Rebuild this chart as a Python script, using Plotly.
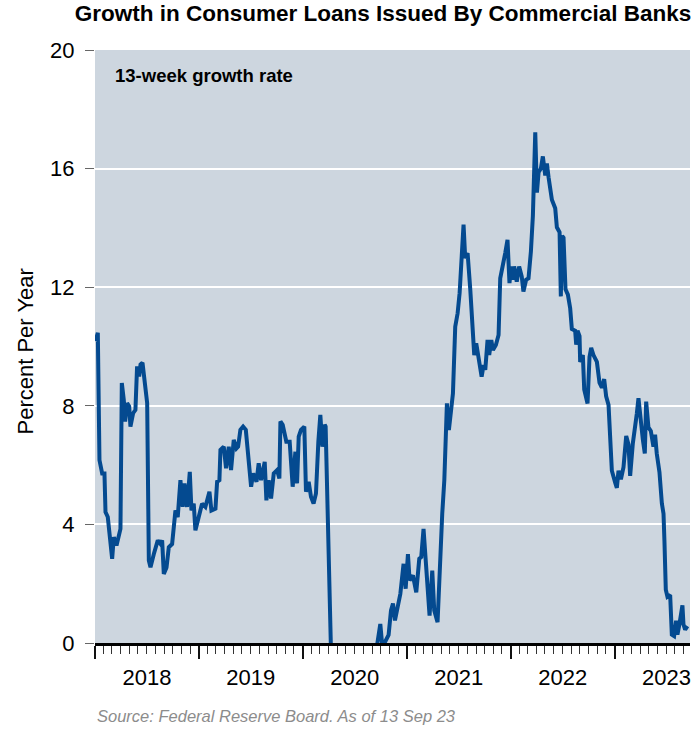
import numpy as np
import pandas as pd
import plotly.graph_objects as go

# Weekly series: time in years since 1 Jan 2018, 13-week growth rate (% per year)
years_since_2018 = [
    0.005, 0.027, 0.043, 0.069, 0.091, 0.101, 0.123, 0.165, 0.181, 0.207,
    0.245, 0.258, 0.277, 0.290, 0.309, 0.329, 0.341, 0.367, 0.389, 0.405,
    0.425, 0.438, 0.457, 0.486, 0.502, 0.518, 0.534, 0.566, 0.604, 0.630,
    0.646, 0.662, 0.688, 0.710, 0.742, 0.774, 0.796, 0.822, 0.844, 0.861,
    0.886, 0.912, 0.928, 0.950, 0.966, 0.998, 1.030, 1.062, 1.101, 1.120,
    1.159, 1.175, 1.197, 1.207, 1.239, 1.261, 1.287, 1.309, 1.335, 1.361,
    1.377, 1.399, 1.425, 1.451, 1.480, 1.502, 1.522, 1.554, 1.575, 1.598,
    1.633, 1.649, 1.671, 1.694, 1.720, 1.752, 1.774, 1.784, 1.806, 1.841,
    1.873, 1.902, 1.928, 1.944, 1.960, 1.982, 2.014, 2.030, 2.056, 2.078,
    2.103, 2.126, 2.149, 2.168, 2.188, 2.210, 2.219, 2.232, 2.262, 2.330,
    2.420, 2.520, 2.620, 2.700, 2.713, 2.745, 2.761, 2.793, 2.825, 2.848,
    2.867, 2.886, 2.912, 2.938, 2.969, 2.989, 3.011, 3.027, 3.059, 3.091,
    3.120, 3.139, 3.161, 3.187, 3.219, 3.245, 3.264, 3.296, 3.322, 3.341,
    3.361, 3.386, 3.405, 3.425, 3.444, 3.466, 3.489, 3.508, 3.531, 3.546,
    3.562, 3.585, 3.611, 3.636, 3.649, 3.668, 3.691, 3.720, 3.739, 3.755,
    3.777, 3.793, 3.813, 3.829, 3.857, 3.883, 3.899, 3.921, 3.947, 3.969,
    3.988, 4.004, 4.020, 4.033, 4.058, 4.081, 4.106, 4.122, 4.148, 4.171,
    4.194, 4.213, 4.226, 4.236, 4.252, 4.268, 4.290, 4.309, 4.332, 4.348,
    4.364, 4.396, 4.428, 4.444, 4.470, 4.482, 4.495, 4.508, 4.527, 4.550,
    4.572, 4.588, 4.620, 4.630, 4.643, 4.662, 4.668, 4.694, 4.707, 4.739,
    4.758, 4.774, 4.796, 4.829, 4.854, 4.877, 4.899, 4.918, 4.941, 4.957,
    4.973, 5.005, 5.021, 5.037, 5.060, 5.085, 5.111, 5.133, 5.149, 5.175,
    5.197, 5.213, 5.229, 5.252, 5.271, 5.290, 5.303, 5.325, 5.348, 5.373,
    5.389, 5.405, 5.431, 5.454, 5.470, 5.479, 5.492, 5.508, 5.534, 5.550,
    5.572, 5.591, 5.604, 5.623, 5.652, 5.662, 5.678, 5.700,
]
growth_rate = [
    10.18, 10.46, 6.17, 5.72, 5.72, 4.42, 4.25, 2.84, 3.57, 3.29,
    3.85, 8.77, 8.20, 7.47, 8.09, 7.98, 7.30, 7.75, 7.86, 9.33,
    8.99, 9.39, 9.45, 8.54, 8.09, 2.78, 2.55, 3.00, 3.46, 3.34,
    3.46, 2.33, 2.55, 3.23, 3.34, 4.47, 4.25, 5.49, 4.59, 5.38,
    4.59, 5.77, 4.47, 4.70, 3.80, 4.25, 4.70, 4.59, 5.10, 4.47,
    4.53, 5.44, 5.49, 6.51, 6.62, 5.89, 6.62, 5.83, 6.85, 6.56,
    6.62, 7.19, 7.30, 7.19, 6.17, 5.27, 5.72, 5.44, 6.06, 5.49,
    6.11, 4.81, 5.49, 4.87, 5.72, 5.83, 5.55, 7.47, 7.36, 6.79,
    6.79, 5.27, 6.45, 5.38, 6.96, 7.19, 7.30, 5.10, 5.44, 4.93,
    4.70, 5.04, 6.79, 7.69, 6.62, 7.36, 7.30, 4.81, -4.50, -9.00,
    -8.00, -6.00, -3.50, -0.60, -0.10, 0.64, 0.02, 0.05, 0.27, 1.10,
    1.33, 0.76, 1.15, 1.66, 2.67, 1.83, 3.00, 2.11, 2.28, 1.71,
    2.84, 2.90, 3.85, 2.67, 0.92, 2.44, 1.10, 0.70, 3.10, 4.36,
    5.49, 8.08, 7.18, 7.97, 8.42, 10.67, 11.12, 11.80, 13.26, 14.11,
    12.98, 13.15, 11.91, 10.33, 9.71, 10.11, 9.54, 8.98, 9.37, 9.21,
    10.22, 9.71, 10.22, 9.88, 10.05, 10.39, 12.30, 12.64, 13.15, 13.60,
    12.14, 12.70, 12.25, 12.70, 12.19, 12.70, 12.36, 11.85, 12.25, 12.30,
    13.20, 14.40, 15.88, 17.22, 15.19, 15.88, 16.00, 16.41, 15.77, 16.17,
    15.71, 14.95, 14.66, 14.02, 13.85, 11.69, 13.73, 13.67, 11.93, 11.75,
    11.29, 10.59, 10.53, 10.06, 10.53, 10.35, 9.48, 9.71, 8.55, 8.08,
    9.65, 9.95, 9.71, 9.48, 8.78, 8.61, 8.90, 8.32, 8.03, 6.92,
    5.81, 5.41, 5.23, 5.81, 5.52, 5.93, 6.98, 6.69, 5.64, 6.74,
    7.21, 7.73, 8.26, 7.39, 6.86, 6.39, 8.14, 7.27, 7.15, 6.62,
    7.03, 6.39, 5.76, 4.71, 4.36, 3.43, 1.80, 1.56, 1.62, 0.28,
    0.23, 0.75, 0.28, 0.63, 1.27, 0.63, 0.45, 0.57,
]

y_ticks = [0, 4, 8, 12, 16, 20]

dates = pd.Timestamp("2018-01-01") + pd.to_timedelta(
    np.array(years_since_2018) * 365.25, unit="D"
)

FONT = "Liberation Sans, Arial, Helvetica, sans-serif"
LINE_BLUE = "#044a90"
PANEL = "#cdd6df"

fig = go.Figure(
    go.Scatter(
        x=dates,
        y=growth_rate,
        mode="lines",
        line=dict(color=LINE_BLUE, width=4),
        hoverinfo="skip",
    )
)

fig.update_layout(
    width=698,
    height=735,
    margin=dict(l=95, r=8, t=50, b=92),
    paper_bgcolor="white",
    plot_bgcolor=PANEL,
    showlegend=False,
    font=dict(family=FONT, color="black"),
    title=dict(
        text="<b>Growth in Consumer Loans Issued By Commercial Banks</b>",
        font=dict(family=FONT, size=22.5, color="black"),
        xref="container", x=383 / 698, xanchor="center",
        yref="container", y=1 - 13 / 735, yanchor="middle",
    ),
)

fig.update_yaxes(
    range=[0, 20],
    tickvals=y_ticks,
    ticktext=[str(v) for v in y_ticks],
    showgrid=True,
    gridcolor="white",
    gridwidth=2,
    zeroline=False,
    showline=False,
    ticks="outside",
    ticklen=9,
    tickwidth=1,
    tickcolor="#666666",
    tickfont=dict(family=FONT, size=22, color="black"),
    ticklabelstandoff=6,
    fixedrange=True,
)

fig.update_xaxes(
    type="date",
    range=["2018-01-01", "2023-09-23"],
    tick0="2018-01-01",
    dtick="M12",
    tickformat="%Y",
    ticklabelmode="period",
    ticks="outside",
    ticklen=13,
    tickwidth=1.5,
    tickcolor="#111111",
    minor=dict(ticks="outside", dtick="M1", tick0="2018-01-01",
               ticklen=8, tickwidth=1, tickcolor="#333333"),
    showgrid=False,
    zeroline=False,
    showline=True,
    linecolor="black",
    linewidth=2.5,
    tickfont=dict(family=FONT, size=22, color="black"),
    fixedrange=True,
)

fig.add_annotation(
    text="Percent Per Year",
    textangle=-90,
    xref="paper", yref="paper",
    x=(25 - 95) / 595, y=(643 - 351.5) / 593,
    xanchor="center", yanchor="middle",
    showarrow=False,
    font=dict(family=FONT, size=22, color="black"),
)

fig.add_annotation(
    text="<b>13-week growth rate</b>",
    xref="paper", yref="paper",
    x=(113 - 95) / 595, y=(643 - 75) / 593,
    xanchor="left", yanchor="middle",
    showarrow=False,
    font=dict(family=FONT, size=18.5, color="black"),
)

fig.add_annotation(
    text="<i>Source: Federal Reserve Board. As of 13 Sep 23</i>",
    xref="paper", yref="paper",
    x=(95 - 95) / 595, y=(643 - 716) / 593,
    xanchor="left", yanchor="middle",
    showarrow=False,
    font=dict(family=FONT, size=16.5, color="#8c8c8c"),
)

fig.write_html("out.html")
